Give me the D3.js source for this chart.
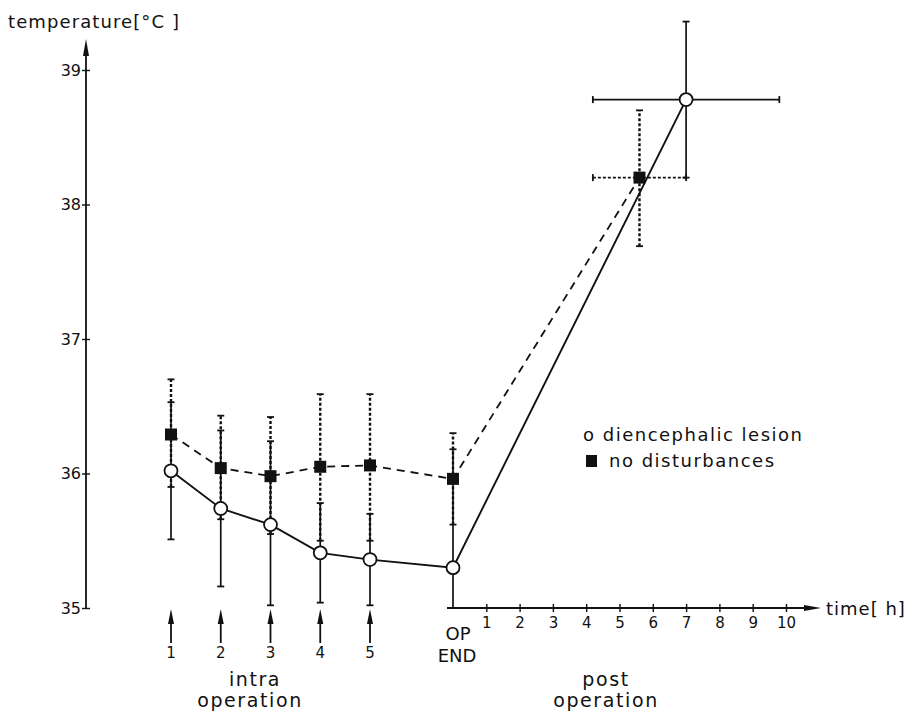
<!DOCTYPE html>
<html>
<head>
<meta charset="utf-8">
<script src="https://cdn.jsdelivr.net/npm/d3@7"></script>
<style>
  body { margin: 0; background: #fff; }
  text { font-family: "DejaVu Sans", sans-serif; fill: #111; }
</style>
</head>
<body>
<div id="plot"></div>
<script>
// stages: five intra-operative readings, end of operation, post operation
var intraLabels = ["1", "2", "3", "4", "5"]
var hourTicks = [1, 2, 3, 4, 5, 6, 7, 8, 9, 10]
var tempTicks = [35, 36, 37, 38, 39]

// diencephalic lesion (open circles, solid)
var lesionMean = [36.02, 35.74, 35.62, 35.41, 35.36, 35.30, 38.78]
var lesionLo   = [35.51, 35.16, 35.02, 35.04, 35.02, 35.00, 38.20]
var lesionHi   = [36.53, 36.32, 36.24, 35.78, 35.70, 36.18, 39.36]
var lesionPostHour = 7.0, lesionPostHourErr = 2.8

// no disturbances (filled squares, dashed)
var normalMean = [36.29, 36.04, 35.98, 36.05, 36.06, 35.96, 38.20]
var normalLo   = [35.90, 35.66, 35.55, 35.50, 35.50, 35.62, 37.69]
var normalHi   = [36.70, 36.43, 36.42, 36.59, 36.59, 36.30, 38.70]
var normalPostHour = 5.6, normalPostHourErr = 1.4

var width = 918, height = 714

var svg = d3.select("#plot")
  .append("svg")
  .attr("width", width)
  .attr("height", height)

var yScale = d3.scaleLinear().domain([35, 39]).range([608, 70])
var xIntra = d3.scaleLinear().domain([1, 5]).range([171, 370])
var xPost = d3.scaleLinear().domain([0, 10]).range([453, 786])

var axisX0 = 86

// x position of stage i (0..4 intra, 5 = OP END, 6 = post)
function xPos(i, postHour) {
  if (i < 5) return xIntra(i + 1)
  if (i == 5) return xPost(0)
  return xPost(postHour)
}

// ---- y axis ----
var yAxis = svg.append("g")
  .attr("transform", "translate(" + axisX0 + ",0)")
  .call(d3.axisLeft(yScale).tickValues(tempTicks).tickFormat(d3.format("d"))
    .tickSizeInner(4).tickSizeOuter(0).tickPadding(1))
yAxis.select(".domain").remove()
yAxis.selectAll(".tick line").attr("x2", -4).attr("x1", 4).attr("stroke", "#111").attr("stroke-width", 1.4)
yAxis.selectAll(".tick text").style("font-size", "16px")

svg.append("line")
  .attr("x1", axisX0).attr("x2", axisX0)
  .attr("y1", yScale(35)).attr("y2", 48)
  .attr("stroke", "#111").attr("stroke-width", 1.8)
svg.append("path")
  .attr("d", "M" + axisX0 + ",39 L" + (axisX0 - 3) + ",56 L" + (axisX0 + 3) + ",56 Z")
  .attr("fill", "#111")

svg.append("text")
  .attr("x", 8).attr("y", 28)
  .style("font-size", "18px").style("letter-spacing", "1.1px")
  .text("temperature[°C ]")

// ---- time axis (post operation) ----
var xAxis = svg.append("g")
  .attr("transform", "translate(0," + yScale(35) + ")")
  .call(d3.axisBottom(xPost).tickValues(hourTicks).tickSizeInner(4).tickSizeOuter(0).tickPadding(5))
xAxis.select(".domain").remove()
xAxis.selectAll(".tick line").attr("y1", -4).attr("y2", 4).attr("stroke", "#111").attr("stroke-width", 1.4)
xAxis.selectAll(".tick text").style("font-size", "15px")

svg.append("line")
  .attr("x1", xPost(0) - 6).attr("x2", 812)
  .attr("y1", yScale(35)).attr("y2", yScale(35))
  .attr("stroke", "#111").attr("stroke-width", 1.8)
svg.append("path")
  .attr("d", "M821," + yScale(35) + " L804," + (yScale(35) - 3) + " L804," + (yScale(35) + 3) + " Z")
  .attr("fill", "#111")
svg.append("text")
  .attr("x", 826).attr("y", yScale(35) + 7)
  .style("font-size", "18px").style("letter-spacing", "1px")
  .text("time[ h]")

svg.append("text").attr("x", 458).attr("y", 640).attr("text-anchor", "middle")
  .style("font-size", "18px").text("OP")
svg.append("text").attr("x", 457).attr("y", 662).attr("text-anchor", "middle")
  .style("font-size", "18px").text("END")
svg.append("text").attr("x", 606).attr("y", 686).attr("text-anchor", "middle")
  .style("font-size", "19px").style("letter-spacing", "1.6px").text("post")
svg.append("text").attr("x", 606).attr("y", 707).attr("text-anchor", "middle")
  .style("font-size", "19px").style("letter-spacing", "1.6px").text("operation")

// ---- intra operation arrows ----
var arrows = svg.selectAll(".arrow")
  .data(intraLabels)
  .enter()
  .append("g")
  .attr("class", "arrow")
  .attr("transform", (d, i) => "translate(" + xIntra(i + 1) + ",0)")
arrows.append("line").attr("y1", 643).attr("y2", 618).attr("stroke", "#111").attr("stroke-width", 1.8)
arrows.append("path").attr("d", "M0,609 L-3,624 L3,624 Z").attr("fill", "#111")
arrows.append("text").attr("y", 658).attr("text-anchor", "middle").style("font-size", "15px").text(d => d)

svg.append("text").attr("x", 255).attr("y", 686).attr("text-anchor", "middle")
  .style("font-size", "19px").style("letter-spacing", "1.6px").text("intra")
svg.append("text").attr("x", 250).attr("y", 707).attr("text-anchor", "middle")
  .style("font-size", "19px").style("letter-spacing", "1.6px").text("operation")

// ---- error bars ----
function errorBars(mean, lo, hi, postHour, postErr, dash, w) {
  var g = svg.append("g")
  mean.forEach(function (m, i) {
    var x = xPos(i, postHour)
    g.append("line").attr("x1", x).attr("x2", x)
      .attr("y1", yScale(lo[i])).attr("y2", yScale(hi[i]))
      .attr("stroke", "#111").attr("stroke-width", w).attr("stroke-dasharray", dash)
    ;[lo[i], hi[i]].forEach(function (v) {
      if (v <= 35) return
      g.append("line").attr("x1", x - 3.5).attr("x2", x + 3.5)
        .attr("y1", yScale(v)).attr("y2", yScale(v))
        .attr("stroke", "#111").attr("stroke-width", 1.8)
    })
  })
  // horizontal spread of the post-operative reading
  var yp = yScale(mean[6])
  g.append("line").attr("x1", xPost(postHour - postErr)).attr("x2", xPost(postHour + postErr))
    .attr("y1", yp).attr("y2", yp)
    .attr("stroke", "#111").attr("stroke-width", 1.6).attr("stroke-dasharray", dash)
  ;[postHour - postErr, postHour + postErr].forEach(function (h) {
    g.append("line").attr("x1", xPost(h)).attr("x2", xPost(h))
      .attr("y1", yp - 3.5).attr("y2", yp + 3.5)
      .attr("stroke", "#111").attr("stroke-width", 1.8)
  })
}
errorBars(lesionMean, lesionLo, lesionHi, lesionPostHour, lesionPostHourErr, null, 1.7)
errorBars(normalMean, normalLo, normalHi, normalPostHour, normalPostHourErr, "3,2", 2.4)

// ---- lines ----
var line = function (postHour) {
  return d3.line()
    .x((d, i) => xPos(i, postHour))
    .y(d => yScale(d))
}

svg.append("path")
  .datum(normalMean)
  .attr("d", line(normalPostHour))
  .attr("fill", "none").attr("stroke", "#111").attr("stroke-width", 1.8)
  .attr("stroke-dasharray", "8,6")

svg.append("path")
  .datum(lesionMean)
  .attr("d", line(lesionPostHour))
  .attr("fill", "none").attr("stroke", "#111").attr("stroke-width", 1.9)

// ---- markers ----
svg.selectAll(".sq")
  .data(normalMean)
  .enter()
  .append("rect")
  .attr("class", "sq")
  .attr("x", (d, i) => xPos(i, normalPostHour) - 6)
  .attr("y", d => yScale(d) - 6)
  .attr("width", 12).attr("height", 12)
  .attr("fill", "#111")

svg.selectAll(".dot")
  .data(lesionMean)
  .enter()
  .append("circle")
  .attr("class", "dot")
  .attr("cx", (d, i) => xPos(i, lesionPostHour))
  .attr("cy", d => yScale(d))
  .attr("r", 6.5)
  .attr("fill", "#fff").attr("stroke", "#111").attr("stroke-width", 1.8)

// ---- legend ----
svg.append("text").attr("x", 583).attr("y", 441)
  .style("font-size", "18px").style("letter-spacing", "1.5px")
  .text("o diencephalic lesion")
svg.append("rect").attr("x", 586).attr("y", 455).attr("width", 11).attr("height", 12).attr("fill", "#111")
svg.append("text").attr("x", 609).attr("y", 467)
  .style("font-size", "18px").style("letter-spacing", "1.5px")
  .text("no disturbances")
</script>
</body>
</html>
